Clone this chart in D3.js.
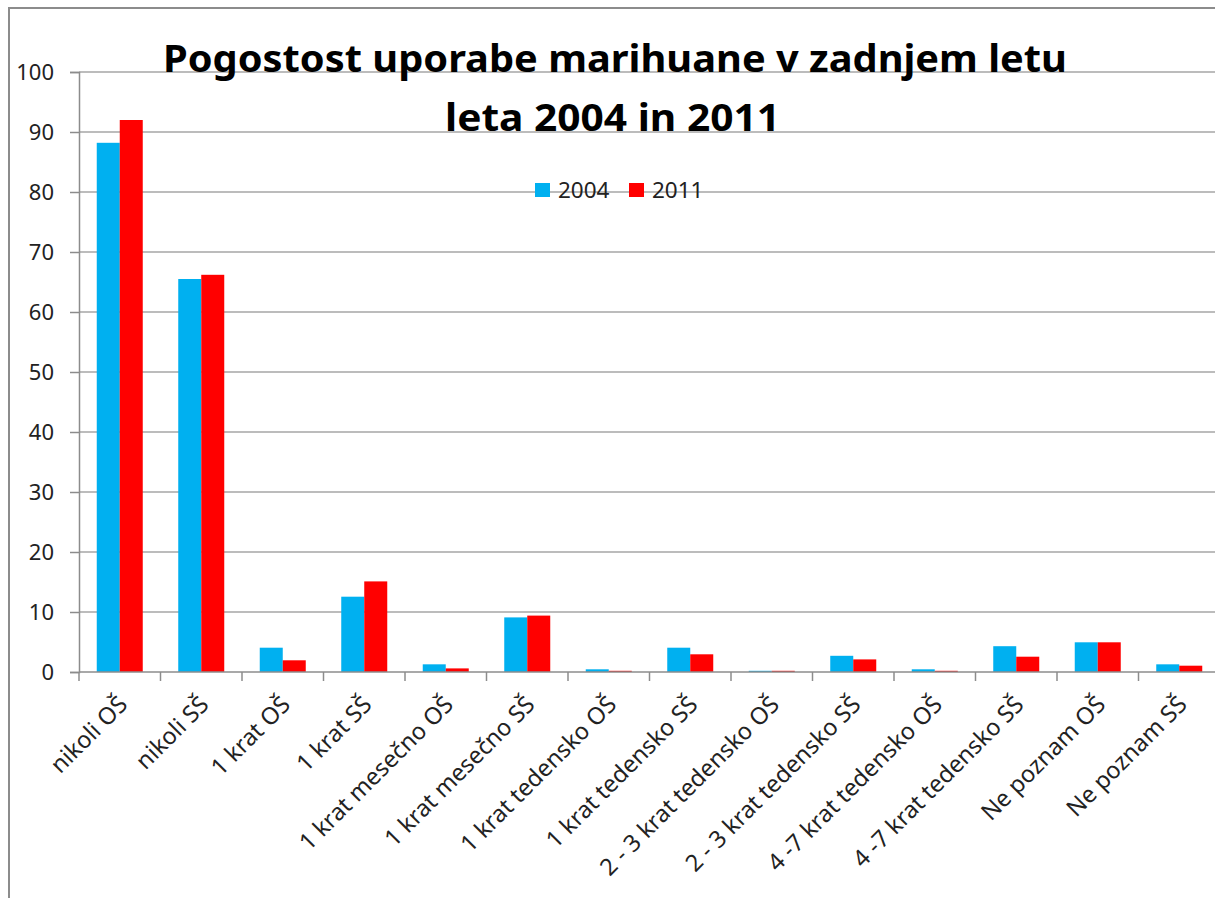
<!DOCTYPE html>
<html><head><meta charset="utf-8">
<script src="https://cdn.jsdelivr.net/npm/d3@7"></script>
<style>body{margin:0;background:#fff}svg{display:block}</style>
</head><body>
<script>
const categories = ["nikoli OŠ","nikoli SŠ","1 krat OŠ","1 krat SŠ","1 krat mesečno OŠ","1 krat mesečno SŠ","1 krat tedensko OŠ","1 krat tedensko SŠ","2 - 3 krat tedensko OŠ","2 - 3 krat tedensko SŠ","4 -7 krat tedensko OŠ","4 -7 krat tedensko SŠ","Ne poznam OŠ","Ne poznam SŠ"];
const series = ["2004","2011"];
const values2004 = [88.2,65.5,4.05,12.55,1.28,9.1,0.45,4.05,0.2,2.7,0.45,4.3,4.95,1.28];
const values2011 = [92.0,66.2,1.95,15.1,0.6,9.4,0.2,2.95,0.2,2.1,0.2,2.55,4.95,1.05];
const yTicks = [0,10,20,30,40,50,60,70,80,90,100];
const colors = ["#00B0F0","#FF0000"];
const titleLines = ["Pogostost uporabe marihuane v zadnjem letu","leta 2004 in 2011"];

const W=1215,H=898;
const svg=d3.select("body").append("svg").attr("width",W).attr("height",H);
const font="'Noto Sans', 'DejaVu Sans', sans-serif";

// outer frame (cropped)
svg.append("path").attr("d",`M9,${H} L9,8 L${W},8`).attr("fill","none").attr("stroke","#8c8c8c").attr("stroke-width",2);

const x0=79, step=81.5;
const x=d3.scaleBand().domain(categories).range([x0,x0+step*categories.length]).paddingInner(0.4356).paddingOuter(0.2178);
const xs=d3.scaleBand().domain(series).range([0,x.bandwidth()]);
const y=d3.scaleLinear().domain([0,100]).range([672,72]);

// gridlines
svg.append("g").selectAll("line").data(yTicks.filter(d=>d>0)).join("line")
 .attr("x1",x0).attr("x2",W).attr("y1",d=>y(d)).attr("y2",d=>y(d))
 .attr("stroke","#a6a6a6").attr("stroke-width",1.5);

// y axis
const yAxis=svg.append("g").attr("transform",`translate(${x0},0)`)
 .call(d3.axisLeft(y).tickValues(yTicks).tickSize(9).tickPadding(16));
yAxis.select(".domain").attr("stroke","#8c8c8c").attr("stroke-width",1.5);
yAxis.selectAll(".tick line").attr("stroke","#8c8c8c").attr("stroke-width",1.5);
yAxis.selectAll("text").attr("font-family",font).attr("font-size",22).attr("fill","#222");

// bars
const g=svg.append("g");
categories.forEach((c,i)=>{
  const vals=[values2004[i],values2011[i]];
  g.selectAll(null).data(series).enter().append("rect")
   .attr("x",s=>x(c)+xs(s)).attr("width",xs.bandwidth())
   .attr("y",(s,j)=>y(vals[j])).attr("height",(s,j)=>y(0)-y(vals[j]))
   .attr("fill",(s,j)=>colors[j]);
});

// x axis
const xa=svg.append("g");
xa.append("line").attr("x1",x0).attr("x2",W).attr("y1",y(0)).attr("y2",y(0)).attr("stroke","#8c8c8c").attr("stroke-width",1.5);
xa.selectAll("line.t").data(d3.range(categories.length+1)).join("line").attr("class","t")
 .attr("x1",i=>x0+i*step).attr("x2",i=>x0+i*step).attr("y1",y(0)).attr("y2",y(0)+9)
 .attr("stroke","#8c8c8c").attr("stroke-width",1.5);
xa.selectAll("text").data(categories).join("text")
 .attr("transform",d=>`translate(${x(d)+x.bandwidth()/2+9},${y(0)+34}) rotate(-45)`)
 .attr("text-anchor","end").attr("font-family",font).attr("font-size",23.5).attr("fill","#222")
 .text(d=>d);

// title
const tl=[{t:titleLines[0],x1:163,x2:1067,yb:72},{t:titleLines[1],x1:445,x2:780,yb:131}];
svg.selectAll("text.title").data(tl).join("text").attr("class","title")
 .attr("x",d=>d.x1).attr("y",d=>d.yb).attr("textLength",d=>d.x2-d.x1).attr("lengthAdjust","spacingAndGlyphs")
 .attr("font-family",font).attr("font-weight","bold").attr("font-size",38).attr("fill","#000").text(d=>d.t);

// legend
const leg=[{s:series[0],c:colors[0],sx:535,tx:558},{s:series[1],c:colors[1],sx:629,tx:652}];
const lg=svg.append("g");
lg.selectAll("rect").data(leg).join("rect").attr("x",d=>d.sx).attr("y",183).attr("width",15).attr("height",14).attr("fill",d=>d.c);
lg.selectAll("text").data(leg).join("text").attr("x",d=>d.tx).attr("y",198)
 .attr("font-family",font).attr("font-size",22.5).attr("fill","#222").text(d=>d.s);
</script>
</body></html>
